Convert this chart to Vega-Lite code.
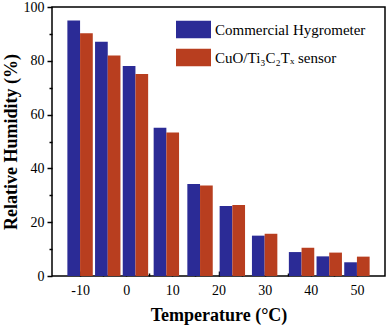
{
  "$schema": "https://vega.github.io/schema/vega-lite/v6.json",
  "width": 333,
  "height": 269,
  "autosize": {"type": "none"},
  "padding": {"left": 52, "top": 7, "right": 4, "bottom": 52},
  "background": "white",
  "config": {
    "view": {"stroke": "black", "strokeWidth": 1.5},
    "font": "Liberation Serif",
    "axis": {"domain": false, "grid": false, "labelFont": "Liberation Serif", "titleFont": "Liberation Serif", "labelColor": "black", "titleColor": "black", "tickColor": "black", "labelFontSize": 14, "titleFontSize": 18, "titleFontWeight": "bold"}
  },
  "data": {
    "values": [
      {"temp": -10, "series": "Commercial Hygrometer", "rh": 95.0},
      {"temp": -4, "series": "Commercial Hygrometer", "rh": 87.1},
      {"temp": 2, "series": "Commercial Hygrometer", "rh": 78.1},
      {"temp": 8.7, "series": "Commercial Hygrometer", "rh": 55.1},
      {"temp": 16, "series": "Commercial Hygrometer", "rh": 34.2},
      {"temp": 23, "series": "Commercial Hygrometer", "rh": 26.0},
      {"temp": 30, "series": "Commercial Hygrometer", "rh": 15.0},
      {"temp": 38, "series": "Commercial Hygrometer", "rh": 8.9},
      {"temp": 44, "series": "Commercial Hygrometer", "rh": 7.3},
      {"temp": 50, "series": "Commercial Hygrometer", "rh": 5.1},
      {"temp": -10, "series": "CuO/Ti₃C₂Tₓ sensor", "rh": 90.2},
      {"temp": -4, "series": "CuO/Ti₃C₂Tₓ sensor", "rh": 82.0},
      {"temp": 2, "series": "CuO/Ti₃C₂Tₓ sensor", "rh": 75.1},
      {"temp": 8.7, "series": "CuO/Ti₃C₂Tₓ sensor", "rh": 53.3},
      {"temp": 16, "series": "CuO/Ti₃C₂Tₓ sensor", "rh": 33.6},
      {"temp": 23, "series": "CuO/Ti₃C₂Tₓ sensor", "rh": 26.4},
      {"temp": 30, "series": "CuO/Ti₃C₂Tₓ sensor", "rh": 15.7},
      {"temp": 38, "series": "CuO/Ti₃C₂Tₓ sensor", "rh": 10.5},
      {"temp": 44, "series": "CuO/Ti₃C₂Tₓ sensor", "rh": 8.7},
      {"temp": 50, "series": "CuO/Ti₃C₂Tₓ sensor", "rh": 7.2}
    ]
  },
  "encoding": {
    "x": {
      "field": "temp", "type": "quantitative",
      "scale": {"domain": [-15, 55], "nice": false, "zero": false},
      "axis": {
        "title": "Temperature (°C)",
        "values": [-10, -5, 0, 5, 10, 15, 20, 25, 30, 35, 40, 45, 50],
        "labelExpr": "datum.value % 10 === 0 ? '' + datum.value : ''",
        "tickSize": {"condition": {"test": "datum.value % 10 === 0", "value": -5}, "value": -3},
        "tickWidth": 1.5,
        "labelPadding": 12,
        "titlePadding": 9
      }
    },
    "y": {
      "field": "rh", "type": "quantitative",
      "scale": {"domain": [0, 100], "nice": false},
      "axis": {
        "title": "Relative Humidity (%)",
        "values": [0, 10, 20, 30, 40, 50, 60, 70, 80, 90, 100],
        "labelExpr": "datum.value % 20 === 0 ? datum.label : ''",
        "tickSize": {"condition": {"test": "datum.value % 20 === 0", "value": 5}, "value": 3},
        "tickWidth": 1.5,
        "labelPadding": 3,
        "titlePadding": 3
      }
    },
    "color": {
      "field": "series", "type": "nominal",
      "scale": {"domain": ["Commercial Hygrometer", "CuO/Ti₃C₂Tₓ sensor"], "range": ["#2b2b96", "#b83e1f"]},
      "legend": {
        "title": null,
        "orient": "none",
        "legendX": 124,
        "legendY": 5,
        "symbolType": "M-1,-0.5H1V0.5H-1Z",
        "symbolSize": 1225,
        "symbolStrokeWidth": 0,
        "symbolOpacity": 1,
        "labelFont": "Liberation Serif",
        "labelFontSize": 15,
        "labelColor": "black",
        "labelOffset": 4,
        "rowPadding": 1,
        "labelLimit": 300
      }
    }
  },
  "layer": [
    {
      "transform": [{"filter": "datum.series === 'Commercial Hygrometer'"}],
      "mark": {"type": "bar", "size": 12.7, "xOffset": -6.35, "opacity": 1}
    },
    {
      "transform": [{"filter": "datum.series !== 'Commercial Hygrometer'"}],
      "mark": {"type": "bar", "size": 12.7, "xOffset": 6.35, "opacity": 1}
    }
  ]
}
